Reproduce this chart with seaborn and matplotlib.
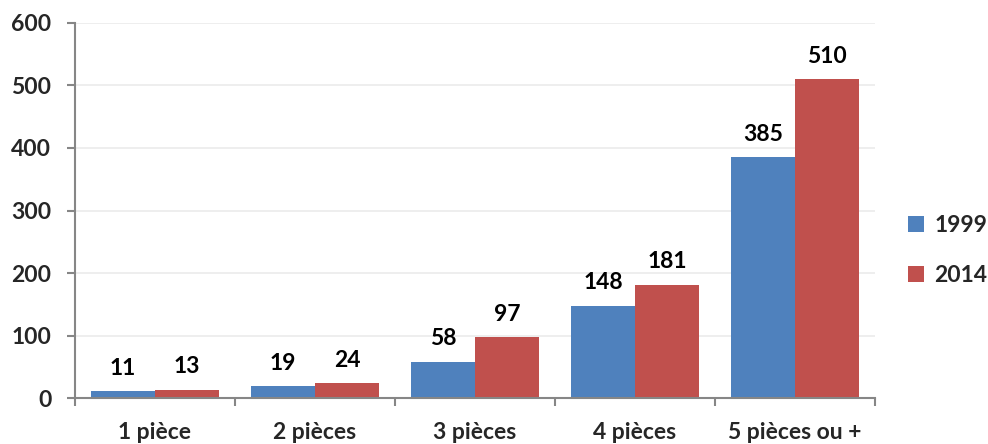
import pandas as pd
import seaborn as sns
import matplotlib.pyplot as plt
from matplotlib.patches import Patch

categories = ['1 pièce', '2 pièces', '3 pièces', '4 pièces', '5 pièces ou +']
years = ['1999', '2014']
values_1999 = [11, 19, 58, 148, 385]
values_2014 = [13, 24, 97, 181, 510]
colors = ['#4F81BD', '#C0504D']

df = pd.DataFrame({
    'pieces': categories * 2,
    'annee': [years[0]] * len(categories) + [years[1]] * len(categories),
    'valeur': values_1999 + values_2014,
})

sns.set_theme(style='white')
plt.rcParams['font.family'] = ['Lato', 'DejaVu Sans']
plt.rcParams['font.weight'] = 'bold'
fs = 16.5

fig = plt.figure(figsize=(9.88, 4.44), dpi=100)
ax = fig.add_axes([0.0759, 0.1036, 0.8097, 0.8446])

sns.barplot(data=df, x='pieces', y='valeur', hue='annee', palette=colors,
            width=0.8, saturation=1, linewidth=0, ax=ax, legend=False)

for cont in ax.containers:
    ax.bar_label(cont, padding=9, fontsize=fs, fontweight='bold', color='black')

ax.set_ylim(0, 600)
ax.set_xlim(-0.5, len(categories) - 0.5)
ax.set_yticks(range(0, 601, 100))
ax.yaxis.grid(True, color='#EBEBEB', linewidth=1.2)
ax.set_axisbelow(True)
ax.set_xlabel('')
ax.set_ylabel('')

for s in ['top', 'right']:
    ax.spines[s].set_visible(False)
for s in ['left', 'bottom']:
    ax.spines[s].set_color('#868686')
    ax.spines[s].set_linewidth(1.5)

ax.tick_params(axis='y', which='major', length=6, width=1.5, color='#868686',
               pad=11, labelsize=fs, left=True)
ax.tick_params(axis='x', which='major', length=0, pad=17, labelsize=fs)
ax.set_xticks([i - 0.5 for i in range(len(categories) + 1)], minor=True)
ax.tick_params(axis='x', which='minor', length=6, width=1.5, color='#868686', bottom=True)
for lbl in ax.get_xticklabels() + ax.get_yticklabels():
    lbl.set_fontweight('bold')

handles = [Patch(facecolor=c, edgecolor='none') for c in colors]
fig.legend(handles, years, loc='center left', bbox_to_anchor=(0.919, 0.436),
           frameon=False, prop={'weight': 'bold', 'size': fs},
           handlelength=0.7, handleheight=0.7, handletextpad=0.45,
           labelspacing=1.25, borderpad=0, borderaxespad=0)

plt.savefig('out.png', dpi=100)
